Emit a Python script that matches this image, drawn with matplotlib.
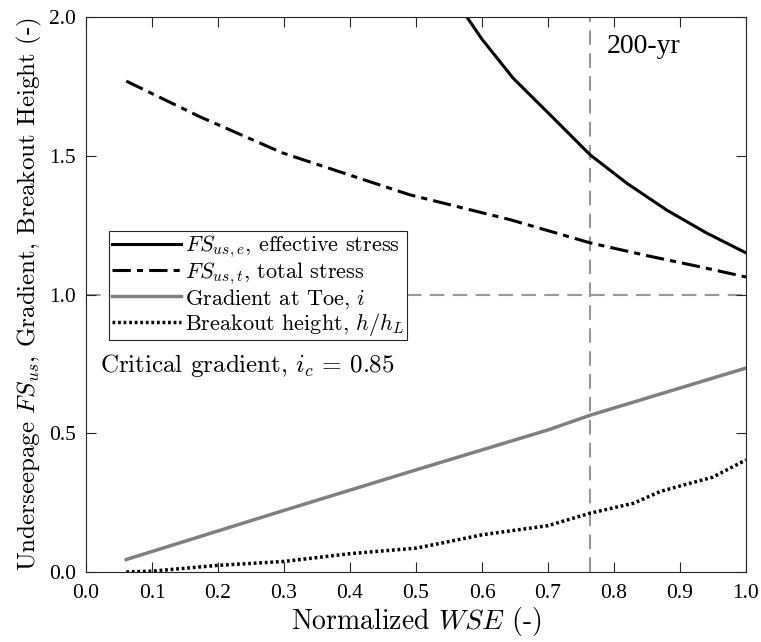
import matplotlib.pyplot as plt

plt.rcParams['mathtext.fontset'] = 'cm'
plt.rcParams['font.family'] = 'Liberation Serif'

# FS effective stress
x_eff = [0.577, 0.60, 0.647, 0.711, 0.764, 0.82, 0.88, 0.94, 1.0]
fs_eff = [2.0, 1.92, 1.78, 1.629, 1.503, 1.40, 1.304, 1.222, 1.15]

# FS total stress
x_tot = [0.061, 0.173, 0.298, 0.4, 0.491, 0.642, 0.764, 0.85, 0.93, 1.0]
fs_tot = [1.769, 1.64, 1.51, 1.43, 1.359, 1.27, 1.186, 1.14, 1.10, 1.063]

# gradient at toe
x_grad = [0.061, 0.3, 0.5, 0.7, 0.764, 1.0]
grad = [0.045, 0.222, 0.368, 0.512, 0.565, 0.735]

# breakout height
x_brk = [0.061, 0.1, 0.2, 0.3, 0.4, 0.5, 0.53, 0.6, 0.7, 0.764, 0.83, 0.87, 0.9, 0.95, 1.0]
brk = [0.0, 0.003, 0.024, 0.038, 0.066, 0.086, 0.10, 0.134, 0.167, 0.212, 0.248, 0.29, 0.31, 0.342, 0.404]

wse_200 = 0.764
fs_limit = 1.0

fig = plt.figure(figsize=(7.61, 6.42), dpi=100)
ax = fig.add_axes([86 / 761, 70 / 642, 660 / 761, 555 / 642])

ax.axvline(wse_200, color='#999999', ls=(0, (7, 4)), lw=1.5, zorder=1)
ax.axhline(fs_limit, color='#999999', ls=(0, (7, 4)), lw=1.5, zorder=1)

ax.plot(x_eff, fs_eff, color='black', lw=2.2,
        label=r'$FS_{us,e}$, effective stress')
ax.plot(x_tot, fs_tot, color='black', lw=2.2, ls=(0, (6, 2, 2, 2)),
        label=r'$FS_{us,t}$, total stress')
ax.plot(x_grad, grad, color='#808080', lw=2.5,
        label=r'Gradient at Toe, $i$')
ax.plot(x_brk, brk, color='black', lw=2.5, ls=(0, (0.8, 0.8)),
        label=r'Breakout height, $h/h_L$')

ax.set_xlim(0, 1)
ax.set_ylim(0, 2)
ax.set_xticks([i / 10 for i in range(11)])
ax.set_yticks([0, 0.5, 1.0, 1.5, 2.0])
ax.xaxis.set_major_formatter(plt.FormatStrFormatter('%.1f'))
ax.yaxis.set_major_formatter(plt.FormatStrFormatter('%.1f'))
ax.tick_params(direction='in', top=True, right=True, labelsize=15.5, length=7,
               color='#262626')
ax.tick_params(axis='x', pad=9)
ax.tick_params(axis='y', pad=7)
for s in ax.spines.values():
    s.set_color('#262626')

ax.set_xlabel(r'Normalized $WSE$ (-)', fontsize=20, family='cmr10', labelpad=1)
ax.set_ylabel(r'Underseepage $FS_{us}$, Gradient, Breakout Height (-)',
              fontsize=18, family='cmr10', labelpad=4)

leg = ax.legend(loc='upper left', bbox_to_anchor=(0.035, 0.614),
                prop={'family': 'cmr10', 'size': 16}, frameon=True, fancybox=False,
                edgecolor='#262626', handlelength=3.1, borderpad=0.12,
                labelspacing=0.0, handletextpad=0.2, borderaxespad=0, framealpha=1)
leg.get_frame().set_linewidth(0.8)

ax.text(0.021, 0.372, r'Critical gradient, $i_c$ = 0.85', transform=ax.transAxes,
        fontsize=18, family='cmr10', va='center')
ax.text(0.789, 0.946, '200-yr', transform=ax.transAxes, fontsize=20, va='center')

fig.savefig('out.png', dpi=100)
